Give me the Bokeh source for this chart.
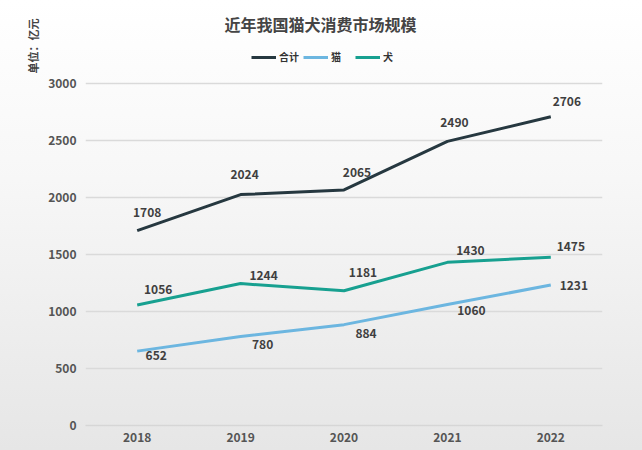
from bokeh.plotting import figure
from bokeh.models import (ColumnDataSource, Range1d, LinearAxis, FixedTicker,
                          Legend, LegendItem, Title, Grid, Label)
from bokeh.core.properties import value
from bokeh.embed import file_html
from bokeh.resources import INLINE

# ---- data ----
years = ["2018", "2019", "2020", "2021", "2022"]
total = [1708, 2024, 2065, 2490, 2706]
cat = [652, 780, 884, 1060, 1231]
dog = [1056, 1244, 1181, 1430, 1475]
y_ticks = [0, 500, 1000, 1500, 2000, 2500, 3000]

# label offsets (screen px, y downward) – style only
total_dx = [10, 4, 13, 7, 16]
total_dy = [-18, -20, -17, -19, -15]
dog_dx = [21, 23, 19, 23, 20]
dog_dy = [-16, -8, -18, -12, -11]
cat_dx = [19, 22, 22, 24, 23]
cat_dy = [4, 8, 9, 6, 0]

FONT = "Noto Sans CJK SC"
C_TOTAL = "#263840"
C_CAT = "#6cb6e0"
C_DOG = "#17a090"
TXT = "#3f3f3f"

idx = list(range(len(years)))

p = figure(width=642, height=450, output_backend="svg", toolbar_location=None,
           x_range=Range1d(-0.5, 4.5), y_range=Range1d(0, 3725),
           x_axis_type=None, y_axis_type=None, title_location=None,
           min_border_left=85, min_border_right=40, min_border_top=0,
           min_border_bottom=25)
p.border_fill_alpha = 0
p.background_fill_alpha = 0
p.outline_line_color = None
p.styles = {"background-image": "linear-gradient(to bottom, #ffffff 0%, #f7f7f7 40%, #e6e6e6 100%)"}

# y axis
yax = LinearAxis(ticker=FixedTicker(ticks=y_ticks))
yax.axis_line_color = None
yax.major_tick_line_color = None
yax.minor_tick_line_color = None
yax.major_label_standoff = 3
yax.major_label_text_font = FONT
yax.major_label_text_font_style = "bold"
yax.major_label_text_font_size = "12px"
yax.major_label_text_color = "#555555"
p.add_layout(yax, "left")

# x axis
xax = LinearAxis(ticker=FixedTicker(ticks=idx),
                 major_label_overrides={i: y for i, y in zip(idx, years)})
xax.axis_line_color = "#d6d6d6"
xax.axis_line_width = 1.5
xax.major_tick_line_color = None
xax.minor_tick_line_color = None
xax.major_label_standoff = 1
xax.major_label_text_font = FONT
xax.major_label_text_font_style = "bold"
xax.major_label_text_font_size = "12px"
xax.major_label_text_color = "#555555"
p.add_layout(xax, "below")

grid = Grid(dimension=1, ticker=FixedTicker(ticks=y_ticks[1:]),
            grid_line_color="#dadada", grid_line_width=1.5)
p.add_layout(grid)

src = ColumnDataSource(dict(x=idx, total=total, cat=cat, dog=dog,
                            lt=[str(v) for v in total], lc=[str(v) for v in cat],
                            ld=[str(v) for v in dog],
                            tdx=total_dx, tdy=total_dy, ddx=dog_dx, ddy=dog_dy,
                            cdx=cat_dx, cdy=cat_dy))

r_total = p.line("x", "total", source=src, line_color=C_TOTAL, line_width=3)
r_cat = p.line("x", "cat", source=src, line_color=C_CAT, line_width=3)
r_dog = p.line("x", "dog", source=src, line_color=C_DOG, line_width=3)

for ycol, tcol, dx, dy in [("total", "lt", "tdx", "tdy"), ("dog", "ld", "ddx", "ddy"),
                           ("cat", "lc", "cdx", "cdy")]:
    p.text("x", ycol, text=tcol, source=src, x_offset=dx, y_offset=dy,
           text_align="center", text_baseline="middle",
           text_font=value(FONT), text_font_style="bold",
           text_font_size="12px", text_color=TXT)

# y-unit label at left (top of left panel)
p.add_layout(Title(text="单位：亿元", align="right", offset=18, text_font=FONT,
                   text_font_style="bold", text_font_size="11px",
                   text_color="#444444"), "left")

# main title (screen units, relative to frame bottom-left)
p.add_layout(Label(x=235, y=402, x_units="screen", y_units="screen",
                   text="近年我国猫犬消费市场规模", text_align="center",
                   text_baseline="middle", text_font=FONT,
                   text_font_style="bold", text_font_size="16px",
                   text_color="#444444"))

# legend
legend = Legend(items=[LegendItem(label="合计", renderers=[r_total]),
                       LegendItem(label="猫", renderers=[r_cat]),
                       LegendItem(label="犬", renderers=[r_dog])],
                orientation="horizontal", location=(166, 361),
                glyph_width=25, glyph_height=10, label_standoff=3, spacing=4,
                padding=0, margin=0,
                label_text_font=FONT, label_text_font_style="bold",
                label_text_font_size="10px", label_text_color="#333333",
                background_fill_alpha=0, border_line_color=None)
p.add_layout(legend)

open("out.html", "w").write(file_html(p, INLINE))
